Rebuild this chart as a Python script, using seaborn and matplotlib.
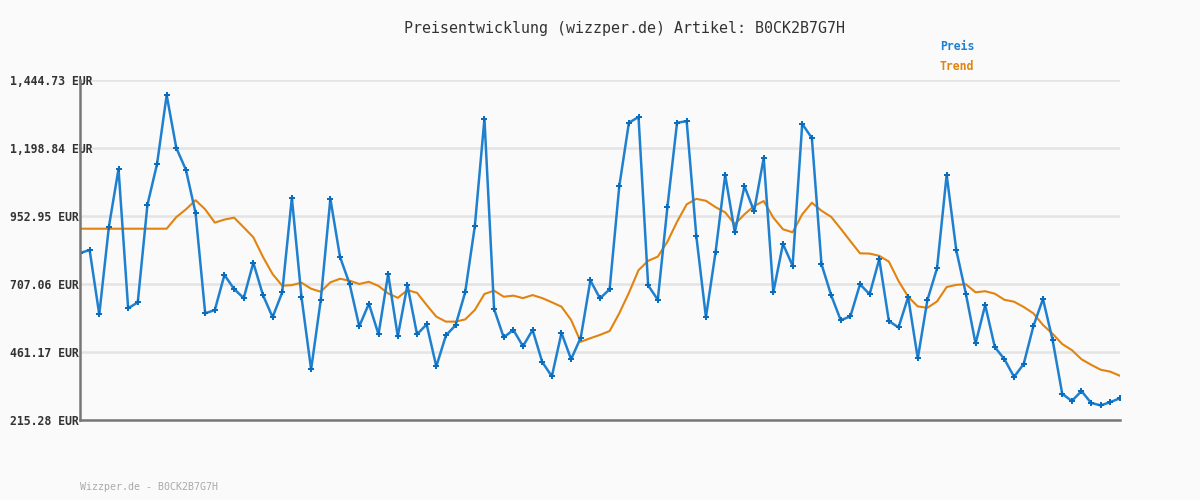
import seaborn as sns
import pandas as pd
import matplotlib.pyplot as plt

# Preisverlauf (Index 0..108)
preis = [
    819, 830, 597, 914, 1123, 619, 641, 993, 1141, 1390,
    1199, 1120, 964, 601, 613, 740, 689, 656, 784, 667,
    587, 677, 1019, 660, 398, 649, 1015, 805, 707, 554,
    636, 525, 743, 518, 703, 525, 561, 409, 521, 558,
    677, 916, 1304, 617, 514, 541, 482, 541, 425, 373,
    530, 435, 513, 720, 655, 688, 1060, 1290, 1311, 702,
    650, 985, 1290, 1296, 881, 587, 822, 1101, 894, 1061,
    970, 1163, 677, 852, 773, 1286, 1235, 779, 667, 576,
    590, 706, 670, 797, 573, 550, 660, 438, 649, 764,
    1102, 829, 671, 492, 631, 479, 435, 371, 418, 554,
    653, 505, 310, 284, 320, 277, 268, 280, 294,
]
trend = [
    907, 907, 907, 907, 907, 907, 907, 907, 907, 907,
    949, 977, 1010, 977, 929, 940, 947, 912, 876, 805,
    743, 701, 703, 712, 690, 679, 713, 726, 719, 707,
    715, 700, 673, 657, 685, 675, 631, 589, 571, 571,
    579, 613, 671, 683, 661, 665, 656, 667, 656, 641,
    625, 577, 498, 511, 523, 537, 601, 675, 757, 791,
    806, 860, 932, 995, 1015, 1008, 985, 966, 923, 959,
    989, 1007, 947, 905, 894, 959, 1001, 972, 950, 907,
    862, 818, 817, 809, 788, 718, 661, 626, 621, 644,
    696, 704, 706, 677, 681, 672, 650, 643, 624, 601,
    559, 527, 490, 468, 435, 415, 397, 390, 375,
]
y_ticks = [215.28, 461.17, 707.06, 952.95, 1198.84, 1444.73]
y_labels = ["215.28 EUR", "461.17 EUR", "707.06 EUR", "952.95 EUR",
            "1,198.84 EUR", "1,444.73 EUR"]

df = pd.DataFrame({"tag": range(len(preis)), "preis": preis, "trend": trend})

sns.set_style("white")
plt.rcParams["font.family"] = ["DejaVu Sans Mono"]
bg = "#fafafa"

fig = plt.figure(figsize=(12, 5), dpi=100, facecolor=bg)
ax = fig.add_axes([80 / 1200, 1 - 420 / 500, 1040 / 1200, 340 / 500])
ax.set_facecolor(bg)

sns.lineplot(data=df, x="tag", y="trend", ax=ax, color="#e2830f", linewidth=1.5)
sns.lineplot(data=df, x="tag", y="preis", ax=ax, color="#1f80cf", linewidth=1.8,
             marker="P", markersize=4, markerfacecolor="#0a6cbd",
             markeredgecolor="#0a6cbd", markeredgewidth=0)

ax.set_xlim(0, len(preis) - 1)
ax.set_ylim(y_ticks[0], y_ticks[-1])
ax.set_xticks([])
ax.set_yticks(y_ticks)
ax.set_yticklabels(y_labels)
ax.tick_params(axis="y", length=0, pad=50.4)
for lab in ax.get_yticklabels():
    lab.set_ha("left")
    lab.set_fontsize(8.3)
    lab.set_fontweight("bold")
    lab.set_color("#333333")
ax.grid(axis="y", color="#e4e4e4", linewidth=1.8)
ax.set_axisbelow(True)
ax.set_xlabel("")
ax.set_ylabel("")
for s in ["top", "right"]:
    ax.spines[s].set_visible(False)
for s in ["left", "bottom"]:
    ax.spines[s].set_color("#777777")
    ax.spines[s].set_linewidth(1.8)

fig.text(624 / 1200, 1 - 28 / 500, "Preisentwicklung (wizzper.de) Artikel: B0CK2B7G7H",
         ha="center", va="center", fontsize=10.8, color="#333333")
fig.text(940 / 1200, 1 - 47 / 500, "Preis", ha="left", va="center",
         fontsize=8.3, fontweight="bold", color="#1f80cf")
fig.text(940 / 1200, 1 - 67 / 500, "Trend", ha="left", va="center",
         fontsize=8.3, fontweight="bold", color="#e2830f")
fig.text(80 / 1200, 1 - 487 / 500, "Wizzper.de - B0CK2B7G7H", ha="left", va="center",
         fontsize=7.2, color="#aaaaaa")

fig.savefig("out.png", dpi=100, facecolor=bg)
